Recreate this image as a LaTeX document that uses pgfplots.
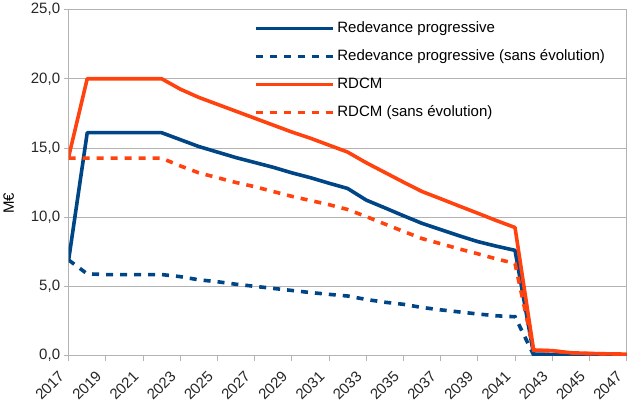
\documentclass[border=0pt]{standalone}
\usepackage{fontspec}
\setmainfont{Liberation Sans}
\usepackage{pgfplots}
\pgfplotsset{compat=1.18}
\definecolor{lblue}{HTML}{004586}
\definecolor{lorange}{HTML}{FF420E}
\definecolor{lgrid}{HTML}{B3B3B3}
\newcommand\f{\fontsize{15}{18}\selectfont}
\begin{document}
\begin{tikzpicture}
\begin{axis}[
  scale only axis, width=558pt, height=346pt,
  xmin=2017, xmax=2047, ymin=0, ymax=25,
  xtick={2017,2019,...,2047}, minor x tick num=1,
  ytick={0,5,...,25},
  axis line style={lgrid, line width=0.8pt},
  tick style={lgrid, line width=0.8pt},
  major tick length=5pt, minor tick length=5pt,
  tick align=outside, xtick pos=left, ytick pos=left,
  ymajorgrids, grid style={lgrid, line width=0.8pt},
  /pgf/number format/assume math mode=true,
  xticklabel style={/pgf/number format/1000 sep={}, xshift=-7pt, yshift=-13pt, rotate=45, anchor=east, inner sep=0pt, font=\f, text=black!85},
  yticklabel style={/pgf/number format/fixed, /pgf/number format/fixed zerofill, /pgf/number format/precision=1, /pgf/number format/use comma, font=\f, text=black!85},
  ylabel={M€},
  ylabel style={at={(rel axis cs:-0.1075,0.44)}, anchor=center, font=\f},
  legend style={draw=none, fill=none, font=\f, at={(rel axis cs:0.3315,0.966)}, anchor=north west, inner sep=0pt, nodes={inner sep=0pt, text height=11pt, text depth=3pt}, row sep=14pt, column sep=3pt},
  legend cell align=left,
  legend image code/.code={\draw[#1] (0pt,0pt) -- (77pt,0pt);},
  every axis plot/.append style={line width=3.6pt},
]
\addplot[lblue, line join=round] coordinates {
(2017,6.9) (2018,16.1) (2019,16.1) (2020,16.1) (2021,16.1) (2022,16.1)
(2023,15.6) (2024,15.1) (2025,14.7) (2026,14.3) (2027,13.95) (2028,13.6)
(2029,13.2) (2030,12.85) (2031,12.45) (2032,12.07) (2033,11.23) (2034,10.67)
(2035,10.1) (2036,9.55) (2037,9.1) (2038,8.65) (2039,8.23) (2040,7.9)
(2041,7.6) (2042,0.1) (2043,0.08) (2044,0.05) (2045,0.03) (2046,0.02) (2047,0.02)};
\addlegendentry{Redevance progressive}
\addplot[lblue, dash pattern=on 7pt off 7pt] coordinates {
(2017,6.9) (2018,5.9) (2019,5.85) (2020,5.85) (2021,5.85) (2022,5.85)
(2023,5.7) (2024,5.47) (2025,5.33) (2026,5.15) (2027,5.0) (2028,4.85)
(2029,4.7) (2030,4.55) (2031,4.42) (2032,4.3) (2033,4.05) (2034,3.85)
(2035,3.7) (2036,3.47) (2037,3.3) (2038,3.15) (2039,3.0) (2040,2.87)
(2041,2.8) (2042,0.05) (2043,0.04) (2044,0.03) (2045,0.02) (2046,0.02) (2047,0.02)};
\addlegendentry{Redevance progressive (sans évolution)}
\addplot[lorange, line join=round] coordinates {
(2017,14.35) (2018,20.0) (2019,20.0) (2020,20.0) (2021,20.0) (2022,20.0)
(2023,19.25) (2024,18.65) (2025,18.15) (2026,17.65) (2027,17.15) (2028,16.65)
(2029,16.15) (2030,15.7) (2031,15.2) (2032,14.7) (2033,13.93) (2034,13.23)
(2035,12.53) (2036,11.85) (2037,11.33) (2038,10.8) (2039,10.28) (2040,9.75)
(2041,9.25) (2042,0.4) (2043,0.35) (2044,0.2) (2045,0.15) (2046,0.12) (2047,0.1)};
\addlegendentry{RDCM}
\addplot[lorange, dash pattern=on 7pt off 7pt] coordinates {
(2017,14.26) (2018,14.26) (2019,14.26) (2020,14.26) (2021,14.26) (2022,14.26)
(2023,13.7) (2024,13.2) (2025,12.85) (2026,12.5) (2027,12.2) (2028,11.85)
(2029,11.5) (2030,11.2) (2031,10.9) (2032,10.55) (2033,10.04) (2034,9.5)
(2035,8.97) (2036,8.45) (2037,8.08) (2038,7.7) (2039,7.35) (2040,6.98)
(2041,6.65) (2042,0.38) (2043,0.33) (2044,0.19) (2045,0.14) (2046,0.11) (2047,0.1)};
\addlegendentry{RDCM (sans évolution)}
\end{axis}
\end{tikzpicture}
\end{document}
